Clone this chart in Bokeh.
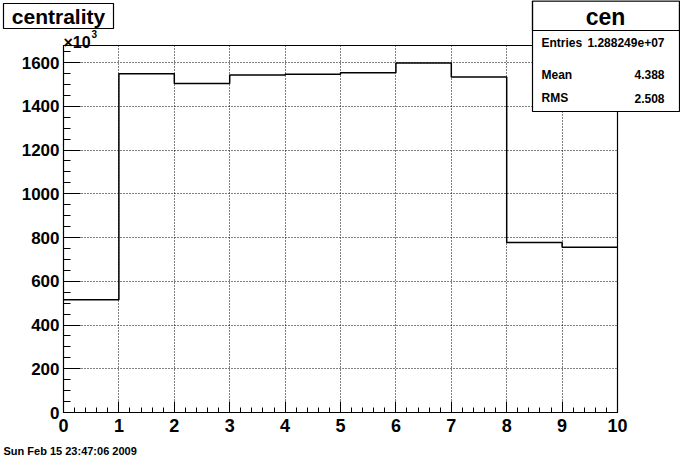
from bokeh.plotting import figure
from bokeh.models import (Range1d, SingleIntervalTicker, Label, BoxAnnotation,
                          LinearAxis, Grid)
from bokeh.embed import file_html
from bokeh.resources import INLINE

# ---- data (values in units of 10^3) ----
bin_edges = [0, 1, 2, 3, 4, 5, 6, 7, 8, 9, 10]
counts_k = [515, 1549, 1504, 1543, 1546, 1553, 1598, 1534, 777, 755]
hist_name = "cen"
hist_title = "centrality"
stats_labels = ["Entries", "Mean", "RMS"]
stats_values = ["1.288249e+07", "4.388", "2.508"]
date_text = "Sun Feb 15 23:47:06 2009"

FONT = "Liberation Sans"

# layout (figure pixels): whole canvas is the frame; the histogram box sits inside
W, H = 680, 456
BL, BR, BT, BB = 63, 617, 45, 412
XMIN, XMAX, YMIN, YMAX = 0.0, 10.0, 0.0, 1678.0
xs = (XMAX - XMIN) / (BR - BL)
ys = (YMAX - YMIN) / (BB - BT)

p = figure(width=W, height=H, min_border=0,
           min_border_left=0, min_border_right=0, min_border_top=0, min_border_bottom=0,
           x_range=Range1d(XMIN - BL * xs, XMAX + (W - BR) * xs),
           y_range=Range1d(YMIN - (H - BB) * ys, YMAX + BT * ys),
           x_axis_location=None, y_axis_location=None,
           output_backend="svg", toolbar_location=None,
           background_fill_color="white", border_fill_color="white")
p.outline_line_color = None
p.grid.visible = False

xticker = SingleIntervalTicker(interval=1, num_minor_ticks=5)
yticker = SingleIntervalTicker(interval=200, num_minor_ticks=4)

xaxis = LinearAxis(ticker=xticker, fixed_location=YMIN, bounds=(XMIN, XMAX))
yaxis = LinearAxis(ticker=yticker, fixed_location=XMIN, bounds=(YMIN, YMAX))
for ax in (xaxis, yaxis):
    ax.axis_line_color = "black"
    ax.major_tick_line_color = "black"
    ax.minor_tick_line_color = "black"
    ax.major_tick_out = 0
    ax.minor_tick_out = 0
    ax.major_label_text_font = FONT
    ax.major_label_text_font_style = "bold"
    ax.major_label_text_color = "black"
xaxis.major_tick_in = 11
xaxis.minor_tick_in = 5
yaxis.major_tick_in = 17
yaxis.minor_tick_in = 7
xaxis.major_label_text_font_size = "18px"
yaxis.major_label_text_font_size = "17px"
xaxis.major_label_standoff = 6
yaxis.major_label_standoff = 4
p.add_layout(xaxis, "below")
p.add_layout(yaxis, "left")

# dotted grid confined to the histogram box
p.add_layout(Grid(dimension=0, ticker=xticker, bounds=(XMIN, XMAX),
                  cross_bounds=(YMIN, YMAX), grid_line_color="black",
                  grid_line_dash="1 2", grid_line_width=1))
p.add_layout(Grid(dimension=1, ticker=yticker, bounds=(YMIN, YMAX),
                  cross_bounds=(XMIN, XMAX), grid_line_color="black",
                  grid_line_dash="1 2", grid_line_width=1))

# histogram outline
p.step(x=bin_edges, y=counts_k + [counts_k[-1]], mode="after",
       line_color="black", line_width=1.5)

# histogram frame
p.add_layout(BoxAnnotation(left=XMIN, right=XMAX, bottom=YMIN, top=YMAX,
                           fill_alpha=0, line_color="black", line_alpha=1,
                           line_width=1.2))

def sx(px):
    return px

def sy(py):
    return H - py

def label(x, y, text, size, align="left", baseline="middle"):
    p.add_layout(Label(x=sx(x), y=sy(y), x_units="screen", y_units="screen",
                       text=text, text_font=FONT, text_font_style="bold",
                       text_font_size=size, text_align=align, text_color="black",
                       text_baseline=baseline, level="overlay"))

def box(l, r, t, b, fill=True):
    p.add_layout(BoxAnnotation(left=sx(l), right=sx(r), top=sy(t), bottom=sy(b),
                               left_units="screen", right_units="screen",
                               top_units="screen", bottom_units="screen",
                               fill_color="white", fill_alpha=1 if fill else 0,
                               line_color="black", line_alpha=1,
                               line_width=1.2, level="overlay"))

# x10^3 label
label(63, 42, "\u00d710", "16px", baseline="alphabetic")
label(91, 33, "3", "10px", baseline="alphabetic")

# title box
box(3, 113, 3, 28)
label(58, 16, hist_title, "21px", align="center")

# stats box
box(532, 679, 0.5, 111)
box(532, 679, 0.5, 30, fill=False)
label(605, 16, hist_name, "23px", align="center")
rows_y = [42, 74, 97.5]
for lab, val, ry in zip(stats_labels, stats_values, rows_y):
    label(541, ry, lab, "12px")
    label(664, ry, val, "12px", align="right")

# date
label(3, 450, date_text, "11px")

open("out.html", "w").write(file_html(p, INLINE))
